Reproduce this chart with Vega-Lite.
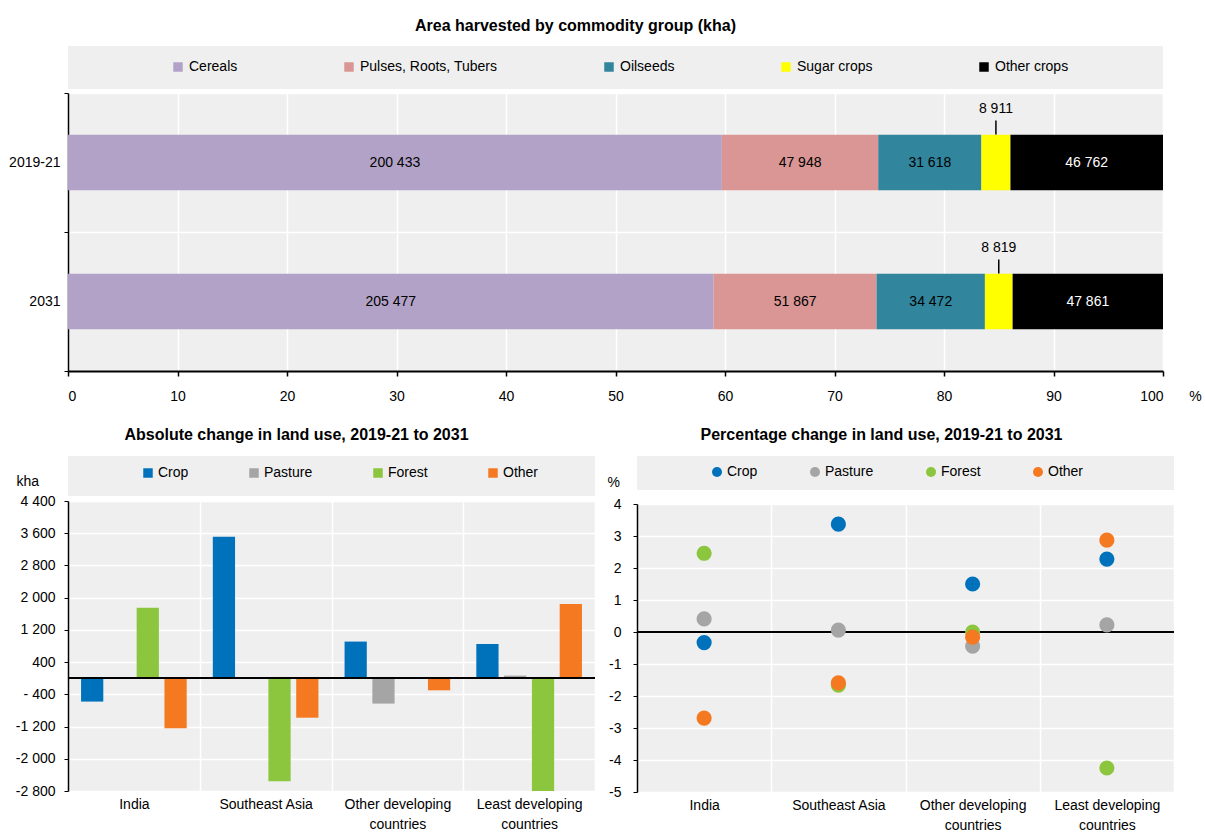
{
  "$schema": "https://vega.github.io/schema/vega-lite/v6.json",
  "background": "white",
  "padding": {"left": 8, "top": 18, "right": 2, "bottom": 2},
  "config": {
    "font": "Liberation Sans, Arial",
    "view": {"fill": "#efefef", "stroke": null},
    "locale": {"number": {"decimal": ".", "thousands": " ", "grouping": [3], "currency": ["", ""], "minus": "-"}},
    "axis": {"labelFontSize": 14, "labelColor": "#000", "titleColor": "#000", "domainColor": "#000", "tickColor": "#000", "gridColor": "#ffffff", "gridWidth": 1.5, "titleFontWeight": "normal", "titleFontSize": 14, "labelOverlap": false, "labelFont": "Liberation Sans, Arial", "titleFont": "Liberation Sans, Arial"},
    "legend": {"labelFontSize": 14, "labelColor": "#000", "symbolOpacity": 1, "padding": 0, "labelFont": "Liberation Sans, Arial"},
    "title": {"fontSize": 16, "fontWeight": "bold", "color": "#000", "font": "Liberation Sans, Arial"}
  },
  "datasets": {
    "crops": [
      {"period": "2019-21", "group": "Cereals", "kha": 200433, "idx": 1},
      {"period": "2019-21", "group": "Pulses, Roots, Tubers", "kha": 47948, "idx": 2},
      {"period": "2019-21", "group": "Oilseeds", "kha": 31618, "idx": 3},
      {"period": "2019-21", "group": "Sugar crops", "kha": 8911, "idx": 4},
      {"period": "2019-21", "group": "Other crops", "kha": 46762, "idx": 5},
      {"period": "2031", "group": "Cereals", "kha": 205477, "idx": 1},
      {"period": "2031", "group": "Pulses, Roots, Tubers", "kha": 51867, "idx": 2},
      {"period": "2031", "group": "Oilseeds", "kha": 34472, "idx": 3},
      {"period": "2031", "group": "Sugar crops", "kha": 8819, "idx": 4},
      {"period": "2031", "group": "Other crops", "kha": 47861, "idx": 5}
    ],
    "abs": [
      {"region": "India", "type": "Crop", "kha": -580},
      {"region": "India", "type": "Pasture", "kha": 30},
      {"region": "India", "type": "Forest", "kha": 1750},
      {"region": "India", "type": "Other", "kha": -1240},
      {"region": "Southeast Asia", "type": "Crop", "kha": 3510},
      {"region": "Southeast Asia", "type": "Pasture", "kha": 10},
      {"region": "Southeast Asia", "type": "Forest", "kha": -2560},
      {"region": "Southeast Asia", "type": "Other", "kha": -980},
      {"region": "Other developing countries", "type": "Crop", "kha": 910},
      {"region": "Other developing countries", "type": "Pasture", "kha": -630},
      {"region": "Other developing countries", "type": "Forest", "kha": -10},
      {"region": "Other developing countries", "type": "Other", "kha": -300},
      {"region": "Least developing countries", "type": "Crop", "kha": 850},
      {"region": "Least developing countries", "type": "Pasture", "kha": 65},
      {"region": "Least developing countries", "type": "Forest", "kha": -2800},
      {"region": "Least developing countries", "type": "Other", "kha": 1845}
    ],
    "pct": [
      {"region": "India", "type": "Crop", "pct": -0.33},
      {"region": "India", "type": "Pasture", "pct": 0.41},
      {"region": "India", "type": "Forest", "pct": 2.46},
      {"region": "India", "type": "Other", "pct": -2.69},
      {"region": "Southeast Asia", "type": "Crop", "pct": 3.37},
      {"region": "Southeast Asia", "type": "Pasture", "pct": 0.06},
      {"region": "Southeast Asia", "type": "Forest", "pct": -1.66},
      {"region": "Southeast Asia", "type": "Other", "pct": -1.59},
      {"region": "Other developing countries", "type": "Crop", "pct": 1.5},
      {"region": "Other developing countries", "type": "Pasture", "pct": -0.44},
      {"region": "Other developing countries", "type": "Forest", "pct": 0.0},
      {"region": "Other developing countries", "type": "Other", "pct": -0.16},
      {"region": "Least developing countries", "type": "Crop", "pct": 2.28},
      {"region": "Least developing countries", "type": "Pasture", "pct": 0.22},
      {"region": "Least developing countries", "type": "Forest", "pct": -4.25},
      {"region": "Least developing countries", "type": "Other", "pct": 2.87}
    ]
  },
  "resolve": {"scale": {"color": "independent", "xOffset": "independent"}, "legend": {"color": "independent"}},
  "spacing": 24,
  "vconcat": [
    {
      "vconcat": [
        {
          "width": 1095,
          "height": 43,
          "view": {"fill": "#efefef", "stroke": null},
          "title": {"text": "Area harvested by commodity group (kha)", "offset": 12, "dx": -40},
          "data": {"name": "crops"},
          "mark": {"type": "square", "opacity": 0},
          "encoding": {
            "color": {
              "field": "group", "type": "nominal",
              "scale": {"domain": ["Cereals", "Pulses, Roots, Tubers", "Oilseeds", "Sugar crops", "Other crops"], "range": ["#b3a2c7", "#d99694", "#31859c", "#ffff00", "#000000"]},
              "legend": {"orient": "none", "legendX": 103, "legendY": 14, "direction": "horizontal", "title": null, "symbolType": "square", "symbolSize": 90, "columnPadding": 104, "labelOffset": 4, "symbolStrokeWidth": 0}
            }
          }
        },
        {
          "width": 1095,
          "height": 278,
          "data": {"name": "crops"},
          "layer": [
            {
              "mark": {"type": "bar", "height": {"band": 0.4}},
              "encoding": {
                "y": {"field": "period", "type": "nominal", "sort": ["2019-21", "2031"], "scale": {"paddingInner": 0, "paddingOuter": 0}, "axis": {"title": null, "tickBand": "extent", "grid": true, "domainWidth": 1.5, "tickSize": 4, "labelPadding": 4}},
                "x": {"field": "kha", "type": "quantitative", "stack": "normalize", "scale": {"domain": [0, 1], "nice": false},
                  "axis": {"values": [0, 0.1, 0.2, 0.3, 0.4, 0.5, 0.6, 0.7, 0.8, 0.9, 1], "tickCount": 30, "labelExpr": "format(datum.value * 100, 'd')", "labelOverlap": false, "grid": true, "domainWidth": 2, "tickSize": 5, "tickWidth": 1.5, "labelPadding": 13, "title": "%", "titleX": 1127, "titleY": 25, "titleBaseline": "middle", "titleAlign": "center", "titleAngle": 0}},
                "order": {"field": "idx"},
                "color": {"field": "group", "type": "nominal", "scale": {"domain": ["Cereals", "Pulses, Roots, Tubers", "Oilseeds", "Sugar crops", "Other crops"], "range": ["#b3a2c7", "#d99694", "#31859c", "#ffff00", "#000000"]}, "legend": null}
              }
            },
            {
              "mark": {"type": "text", "fontSize": 14, "baseline": "middle"},
              "encoding": {
                "y": {"field": "period", "type": "nominal", "sort": ["2019-21", "2031"]},
                "x": {"field": "kha", "type": "quantitative", "stack": "normalize", "bandPosition": 0.5},
                "order": {"field": "idx"},
                "detail": {"field": "group"},
                "text": {"field": "kha", "type": "quantitative", "format": ",d"},
                "color": {"condition": {"test": "datum.group === 'Other crops'", "value": "#ffffff"}, "value": "#000000"},
                "opacity": {"condition": {"test": "datum.group === 'Sugar crops'", "value": 0}, "value": 1}
              }
            },
            {
              "mark": {"type": "text", "fontSize": 14, "baseline": "middle", "dy": -54, "color": "#000"},
              "encoding": {
                "y": {"field": "period", "type": "nominal", "sort": ["2019-21", "2031"]},
                "x": {"field": "kha", "type": "quantitative", "stack": "normalize", "bandPosition": 0.5},
                "order": {"field": "idx"},
                "detail": {"field": "group"},
                "text": {"field": "kha", "type": "quantitative", "format": ",d"},
                "opacity": {"condition": {"test": "datum.group === 'Sugar crops'", "value": 1}, "value": 0}
              }
            },
            {
              "mark": {"type": "tick", "size": 14, "thickness": 1.5, "yOffset": -35, "color": "#000"},
              "encoding": {
                "y": {"field": "period", "type": "nominal", "sort": ["2019-21", "2031"]},
                "x": {"field": "kha", "type": "quantitative", "stack": "normalize", "bandPosition": 0.5},
                "order": {"field": "idx"},
                "detail": {"field": "group"},
                "opacity": {"condition": {"test": "datum.group === 'Sugar crops'", "value": 1}, "value": 0}
              }
            }
          ]
        }
      ],
      "spacing": 4,
      "bounds": "flush",
      "resolve": {"scale": {"color": "independent"}, "legend": {"color": "independent"}}
    },
    {
      "hconcat": [
        {
          "vconcat": [
            {
              "width": 527,
              "height": 40,
              "view": {"fill": "#efefef", "stroke": null},
              "title": {"text": "Absolute change in land use, 2019-21 to 2031", "offset": 13, "dx": -35},
              "data": {"name": "abs"},
              "mark": {"type": "square", "opacity": 0},
              "encoding": {
                "color": {
                  "field": "type", "type": "nominal",
                  "scale": {"domain": ["Crop", "Pasture", "Forest", "Other"], "range": ["#0072bc", "#a5a5a5", "#8cc63f", "#f47920"]},
                  "legend": {"orient": "none", "legendX": 73, "legendY": 10, "direction": "horizontal", "title": null, "symbolType": "square", "symbolSize": 90, "columnPadding": 58, "labelOffset": 3, "symbolStrokeWidth": 0}
                }
              }
            },
            {
              "width": 527,
              "height": 290,
              "data": {"name": "abs"},
              "layer": [
                {
                  "mark": {"type": "bar"},
                  "encoding": {
                    "x": {"field": "region", "type": "nominal", "sort": ["India", "Southeast Asia", "Other developing countries", "Least developing countries"], "scale": {"paddingInner": 0, "paddingOuter": 0},
                      "axis": {"title": null, "labelAngle": 0, "domain": false, "ticks": false, "grid": true, "tickBand": "extent", "labelPadding": 6, "labelLineHeight": 20, "labelBaseline": "top",
                        "labelExpr": "datum.label == 'Other developing countries' ? ['Other developing', 'countries'] : datum.label == 'Least developing countries' ? ['Least developing', 'countries'] : datum.label"}},
                    "xOffset": {"field": "type", "type": "nominal", "sort": ["Crop", "Pasture", "Forest", "Other"], "scale": {"paddingInner": 0.2, "paddingOuter": 0.47}},
                    "y": {"field": "kha", "type": "quantitative", "scale": {"domain": [-2800, 4400], "nice": false},
                      "axis": {"values": [-2800, -2000, -1200, -400, 400, 1200, 2000, 2800, 3600, 4400], "tickCount": 30, "format": ",d", "labelExpr": "datum.value == -400 ? '- 400' : datum.label", "labelOverlap": false, "grid": true, "domainWidth": 1.5, "tickSize": 4, "labelPadding": 9, "title": "kha", "titleAngle": 0, "titleX": -52, "titleY": -20, "titleAlign": "left", "titleBaseline": "middle"}},
                    "color": {"field": "type", "type": "nominal", "scale": {"domain": ["Crop", "Pasture", "Forest", "Other"], "range": ["#0072bc", "#a5a5a5", "#8cc63f", "#f47920"]}, "legend": null}
                  }
                },
                {
                  "mark": {"type": "rule", "color": "#000", "strokeWidth": 1.5},
                  "encoding": {"y": {"datum": 0}}
                }
              ]
            }
          ],
          "spacing": 5,
          "bounds": "flush",
          "resolve": {"scale": {"color": "independent"}, "legend": {"color": "independent"}}
        },
        {
          "vconcat": [
            {
              "width": 537,
              "height": 34,
              "view": {"fill": "#efefef", "stroke": null},
              "title": {"text": "Percentage change in land use, 2019-21 to 2031", "offset": 13, "dx": -24},
              "data": {"name": "pct"},
              "mark": {"type": "circle", "opacity": 0},
              "encoding": {
                "color": {
                  "field": "type", "type": "nominal",
                  "scale": {"domain": ["Crop", "Pasture", "Forest", "Other"], "range": ["#0072bc", "#a5a5a5", "#8cc63f", "#f47920"]},
                  "legend": {"orient": "none", "legendX": 73, "legendY": 9, "direction": "horizontal", "title": null, "symbolType": "circle", "symbolSize": 100, "columnPadding": 50, "labelOffset": 3, "symbolStrokeWidth": 0}
                }
              }
            },
            {
              "width": 537,
              "height": 288,
              "data": {"name": "pct"},
              "layer": [
                {
                  "mark": {"type": "rule", "color": "#000", "strokeWidth": 1.5},
                  "encoding": {"y": {"datum": 0}}
                },
                {
                  "mark": {"type": "circle", "size": 230, "opacity": 1},
                  "encoding": {
                    "x": {"field": "region", "type": "nominal", "sort": ["India", "Southeast Asia", "Other developing countries", "Least developing countries"], "scale": {"paddingInner": 0, "paddingOuter": 0},
                      "axis": {"title": null, "labelAngle": 0, "domain": false, "ticks": false, "grid": true, "tickBand": "extent", "labelPadding": 6, "labelLineHeight": 20, "labelBaseline": "top",
                        "labelExpr": "datum.label == 'Other developing countries' ? ['Other developing', 'countries'] : datum.label == 'Least developing countries' ? ['Least developing', 'countries'] : datum.label"}},
                    "y": {"field": "pct", "type": "quantitative", "scale": {"domain": [-5, 4], "nice": false},
                      "axis": {"values": [-5, -4, -3, -2, -1, 0, 1, 2, 3, 4], "tickCount": 30, "format": "d", "labelOverlap": false, "grid": true, "domainWidth": 1.5, "tickSize": 4, "labelPadding": 12, "title": "%", "titleAngle": 0, "titleX": -30, "titleY": -22, "titleAlign": "left", "titleBaseline": "middle"}},
                    "color": {"field": "type", "type": "nominal", "scale": {"domain": ["Crop", "Pasture", "Forest", "Other"], "range": ["#0072bc", "#a5a5a5", "#8cc63f", "#f47920"]}, "legend": null}
                  }
                }
              ]
            }
          ],
          "spacing": 14,
          "bounds": "flush",
          "resolve": {"scale": {"color": "independent"}, "legend": {"color": "independent"}}
        }
      ],
      "spacing": 11,
      "resolve": {"scale": {"color": "independent"}, "legend": {"color": "independent"}}
    }
  ]
}
